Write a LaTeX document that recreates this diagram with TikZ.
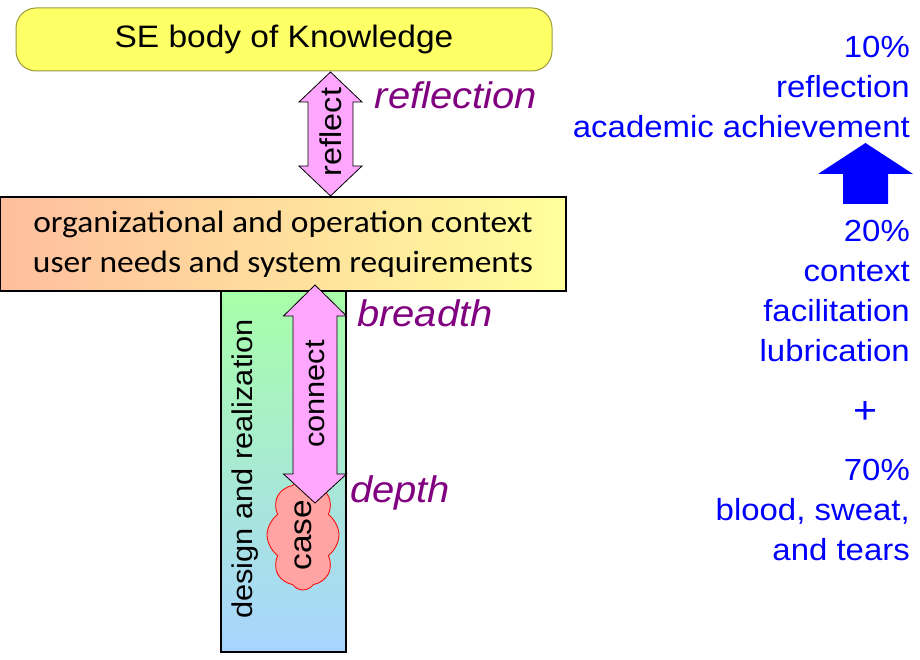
\documentclass[tikz,border=0pt]{standalone}
\usepackage{fontspec}
\setmainfont[FakeStretch=1.08]{Liberation Sans}
\newfontfamily\calibri[FakeStretch=1.08]{Carlito}
\usetikzlibrary{shapes.symbols, positioning}

\definecolor{bokyellow}{HTML}{FFFF66}
\definecolor{bokborder}{HTML}{9A9A3C}
\definecolor{ctxleft}{HTML}{FFBE9E}
\definecolor{ctxright}{HTML}{FFFF9C}
\definecolor{dsgtop}{HTML}{A8FFA8}
\definecolor{dsgbottom}{HTML}{A8D4FF}
\definecolor{arrowpink}{HTML}{FFA6FF}
\definecolor{casepink}{HTML}{FFA3A3}
\definecolor{labelpurple}{HTML}{800080}
\definecolor{ratioblue}{HTML}{0000FF}

\begin{document}
\begin{tikzpicture}[
    x=1pt, y=-1pt,
    sebox/.style={draw=bokborder, line width=1pt, fill=bokyellow, rounded corners=20pt, minimum width=536pt, minimum height=63pt, font=\fontsize{31}{36}\selectfont},
    ctxbox/.style={draw, line width=1.3pt, left color=ctxleft, right color=ctxright, minimum width=566pt, minimum height=94pt, align=center, font=\calibri\fontsize{31}{40}\selectfont},
    dsgbox/.style={draw, line width=1.3pt, top color=dsgtop, bottom color=dsgbottom, minimum width=125pt, minimum height=361pt},
    dblarrow/.style={draw, line width=0.8pt, fill=arrowpink},
    arrowtext/.style={rotate=90, inner sep=0pt, font=\fontsize{30}{34}\selectfont},
    casecloud/.style={cloud, cloud puffs=8, cloud puff arc=110, cloud ignores aspect, draw=red, line width=0.8pt, fill=casepink, minimum width=110pt, minimum height=72pt, rotate=90},
    purplelabel/.style={text=labelpurple, inner sep=0pt, font=\itshape\fontsize{37}{40}\selectfont},
    ratiotext/.style={text=ratioblue, inner sep=0pt, align=right, anchor=north east, font=\fontsize{30.5}{40}\selectfont}
]
    \useasboundingbox (0,0) rectangle (920,660);

    % Body of knowledge and context
    \node[sebox] (SEBOK) at (284, 39.5) {SE body of Knowledge};
    \node[dsgbox] (DSG) at (283.5, 471.5) {};
    \node[ctxbox] (CTX) at (283, 244) {organizational and operation context\\user needs and system requirements};
    \node[arrowtext, font=\fontsize{28.5}{32}\selectfont] (DSG_TXT) at (245, 469) {design and realization};

    % Case cloud
    \node[casecloud] (CASE) at (303, 535) {};

    % Double arrows (reflect and connect)
    \draw[dblarrow] (330.5,72) -- (362,102) -- (353,102) -- (353,166) -- (362,166) -- (330.5,196)
        -- (299,166) -- (308,166) -- (308,102) -- (299,102) -- cycle;
    \node[arrowtext] (REFLECT) at (330.5, 132) {reflect};

    \draw[dblarrow] (315,285) -- (346.5,316) -- (337,316) -- (337,474) -- (346.5,474) -- (315,503)
        -- (283.5,474) -- (293,474) -- (293,316) -- (283.5,316) -- cycle;
    \node[arrowtext, font=\fontsize{28.5}{32}\selectfont] (CONNECT) at (315, 394) {connect};

    \node[arrowtext, font=\fontsize{31}{34}\selectfont] (CASE_TXT) at (CASE) {case};

    % Labels
    \node[purplelabel] (L_REFL) at (456, 95) {reflection};
    \node[purplelabel] (L_BREADTH) at (425, 313) {breadth};
    \node[purplelabel] (L_DEPTH) at (400, 493) {depth};

    % Ratios on the right
    \node[ratiotext] (R_TOP) at (910, 36.5) {10\%\\reflection\\academic achievement};
    \fill[ratioblue] (865.5,143) -- (913,174) -- (888,174) -- (888,204) -- (843,204) -- (843,174) -- (818,174) -- cycle;
    \node[ratiotext] (R_MID) at (910, 220.5) {20\%\\context\\facilitation\\lubrication};
    \node[ratiotext, anchor=center, font=\fontsize{38}{40}\selectfont] (R_PLUS) at (865, 413) {+};
    \node[ratiotext] (R_BOT) at (910, 458.5) {70\%\\blood, sweat,\\and tears};

\end{tikzpicture}
\end{document}
